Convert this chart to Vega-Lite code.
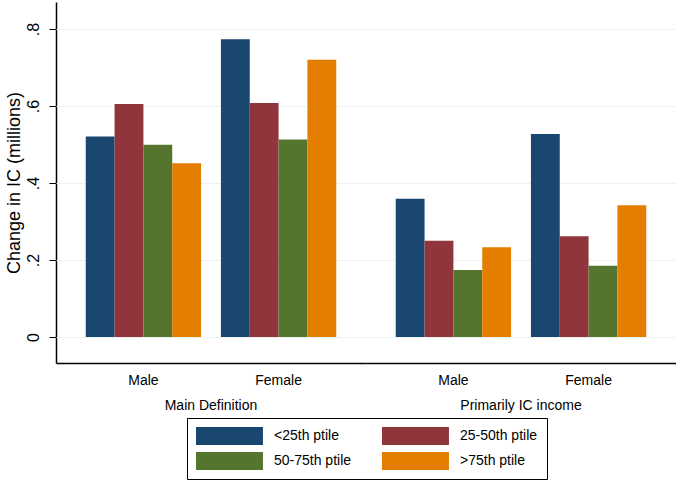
{
  "$schema": "https://vega.github.io/schema/vega-lite/v6.json",
  "description": "Change in IC by percentile group, Stata-style grouped bars",
  "padding": {"left": 5, "top": 2, "right": 0, "bottom": 0},
  "data": {
    "values": [
      {"panel": "Main Definition", "sex": "Male", "ptile": "<25th ptile", "value": 0.521},
      {"panel": "Main Definition", "sex": "Male", "ptile": "25-50th ptile", "value": 0.605},
      {"panel": "Main Definition", "sex": "Male", "ptile": "50-75th ptile", "value": 0.4995},
      {"panel": "Main Definition", "sex": "Male", "ptile": ">75th ptile", "value": 0.451},
      {"panel": "Main Definition", "sex": "Female", "ptile": "<25th ptile", "value": 0.773},
      {"panel": "Main Definition", "sex": "Female", "ptile": "25-50th ptile", "value": 0.608},
      {"panel": "Main Definition", "sex": "Female", "ptile": "50-75th ptile", "value": 0.513},
      {"panel": "Main Definition", "sex": "Female", "ptile": ">75th ptile", "value": 0.72},
      {"panel": "Primarily IC income", "sex": "Male", "ptile": "<25th ptile", "value": 0.359},
      {"panel": "Primarily IC income", "sex": "Male", "ptile": "25-50th ptile", "value": 0.25},
      {"panel": "Primarily IC income", "sex": "Male", "ptile": "50-75th ptile", "value": 0.174},
      {"panel": "Primarily IC income", "sex": "Male", "ptile": ">75th ptile", "value": 0.233},
      {"panel": "Primarily IC income", "sex": "Female", "ptile": "<25th ptile", "value": 0.527},
      {"panel": "Primarily IC income", "sex": "Female", "ptile": "25-50th ptile", "value": 0.2615},
      {"panel": "Primarily IC income", "sex": "Female", "ptile": "50-75th ptile", "value": 0.185},
      {"panel": "Primarily IC income", "sex": "Female", "ptile": ">75th ptile", "value": 0.342}
    ]
  },
  "facet": {
    "column": {
      "field": "panel",
      "type": "nominal",
      "sort": ["Main Definition", "Primarily IC income"],
      "header": {
        "title": null,
        "labelOrient": "bottom",
        "labelFontSize": 14,
        "labelColor": "black",
        "labelPadding": 12
      }
    }
  },
  "spacing": 0,
  "spec": {
    "width": 310,
    "height": 361,
    "mark": {"type": "bar"},
    "encoding": {
      "x": {
        "field": "sex",
        "type": "nominal",
        "sort": ["Male", "Female"],
        "scale": {"paddingInner": 0.147, "paddingOuter": 0.22},
        "axis": {
          "title": null,
          "labelAngle": 0,
          "ticks": false,
          "labelPadding": 10,
          "labelFontSize": 14,
          "labelColor": "black",
          "domainColor": "black",
          "domainWidth": 1.5,
          "grid": false
        }
      },
      "xOffset": {
        "field": "ptile",
        "type": "nominal",
        "sort": ["<25th ptile", "25-50th ptile", "50-75th ptile", ">75th ptile"],
        "scale": {"paddingInner": 0, "paddingOuter": 0}
      },
      "y": {
        "field": "value",
        "type": "quantitative",
        "scale": {"domain": [-0.0675, 0.87], "nice": false, "zero": false},
        "axis": {
          "title": "Change in IC (millions)",
          "titleFontSize": 18,
          "titleFontWeight": "normal",
          "titleColor": "black",
          "titlePadding": 2,
          "values": [0, 0.2, 0.4, 0.6, 0.8],
          "labelExpr": "datum.value == 0 ? '0' : replace(format(datum.value, '.1f'), '0.', '.')",
          "labelAngle": -90,
          "labelAlign": "center",
          "labelBaseline": "bottom",
          "labelFontSize": 16,
          "labelColor": "black",
          "labelPadding": 8,
          "tickSize": 7,
          "tickColor": "black",
          "domainColor": "black",
          "domainWidth": 1.5,
          "gridColor": "#eaf2f3",
          "gridWidth": 1.2
        }
      },
      "color": {
        "field": "ptile",
        "type": "nominal",
        "scale": {
          "domain": ["<25th ptile", "25-50th ptile", "50-75th ptile", ">75th ptile"],
          "range": ["#1a476f", "#90353b", "#55752f", "#e37e00"]
        },
        "legend": {
          "title": null,
          "orient": "none",
          "legendX": 131,
          "legendY": 416,
          "direction": "horizontal",
          "columns": 2,
          "symbolType": "M-1,-1H6.44V1H-1Z",
          "symbolSize": 324,
          "symbolStrokeWidth": 0,
          "symbolOpacity": 1,
          "labelFontSize": 14,
          "labelColor": "black",
          "labelOffset": 60,
          "columnPadding": 30,
          "rowPadding": 7,
          "padding": 9,
          "strokeColor": "black"
        }
      }
    }
  },
  "config": {
    "font": "Liberation Sans",
    "view": {"stroke": null},
    "axis": {"gridColor": "#eaf2f3"}
  }
}
